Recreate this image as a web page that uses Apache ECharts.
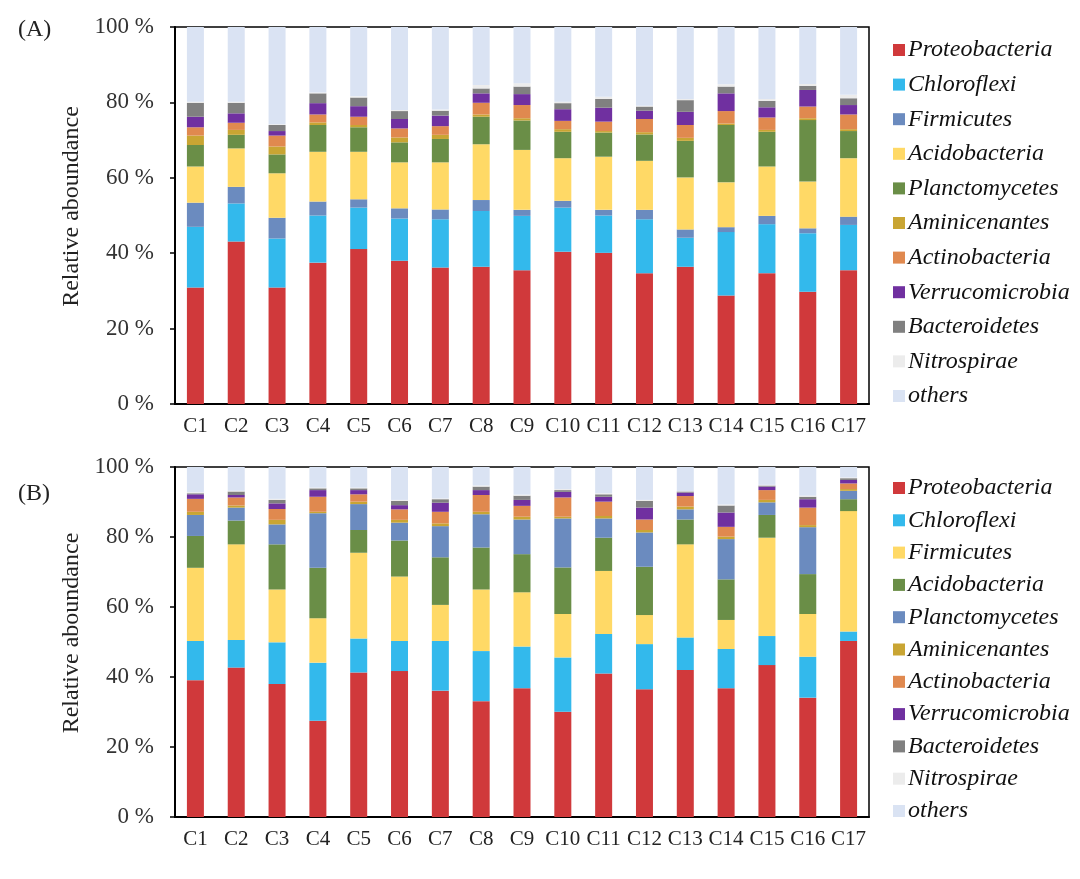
<!DOCTYPE html>
<html><head><meta charset="utf-8">
<script src="https://cdn.jsdelivr.net/npm/echarts@6/dist/echarts.min.js"></script>
<style>html,body{margin:0;padding:0;background:#fff}#c{width:1080px;height:879px}</style>
</head><body><div id="c"></div>
<script>
const categories = ['C1','C2','C3','C4','C5','C6','C7','C8','C9','C10','C11','C12','C13','C14','C15','C16','C17'];
const yTicks = [0, 20, 40, 60, 80, 100];
const phyla = ['Proteobacteria','Chloroflexi','Firmicutes','Acidobacteria','Planctomycetes','Aminicenantes','Actinobacteria','Verrucomicrobia','Bacteroidetes','Nitrospirae','others'];

// Panel A
const A_Proteobacteria = [30.9,43.1,30.9,37.5,41.1,38.0,36.2,36.4,35.5,40.4,40.1,34.7,36.4,28.8,34.7,29.8,35.5];
const A_Chloroflexi    = [16.1,10.1,13.0,12.5,11.0,11.2,12.8,14.8,14.4,11.7,9.9,14.3,7.7,16.8,13.0,15.5,12.0];
const A_Firmicutes     = [6.4,4.4,5.5,3.7,2.2,2.7,2.6,2.9,1.6,1.8,1.5,2.5,2.2,1.3,2.2,1.3,2.2];
const A_Acidobacteria  = [9.6,10.2,11.8,13.2,12.6,12.2,12.5,14.8,15.9,11.3,14.1,13.0,13.8,11.9,13.1,12.4,15.5];
const A_Planctomycetes = [5.7,3.6,5.0,7.1,6.5,5.3,6.2,7.3,7.8,7.0,6.4,7.0,9.7,15.2,9.2,16.3,7.2];
const A_Aminicenantes  = [2.5,1.3,2.1,0.7,0.6,1.3,1.1,0.6,0.6,0.7,0.4,0.6,0.8,0.4,0.5,0.5,0.5];
const A_Actinobacteria = [2.2,1.9,2.9,2.1,2.2,2.4,2.3,3.1,3.5,2.2,2.5,3.5,3.4,3.3,3.3,3.1,3.9];
const A_Verrucomicrobia= [2.8,2.5,1.2,3.0,2.8,2.5,2.8,2.5,2.9,3.1,3.7,2.2,3.5,4.7,2.7,4.4,2.5];
const A_Bacteroidetes  = [3.7,2.8,1.6,2.6,2.3,2.1,1.3,1.3,2.0,1.6,2.3,1.1,3.1,1.8,1.7,1.1,1.8];
const A_Nitrospirae    = [0.3,0.3,0.2,0.2,0.3,0.3,0.3,0.9,0.9,0.4,0.6,0.2,0.3,0.6,0.5,0.5,0.9];
const A_others         = [19.8,19.8,25.8,17.4,18.4,22.0,21.9,15.4,14.9,19.8,18.5,20.9,19.1,15.2,19.1,15.1,18.0];

// Panel B
const B_Proteobacteria = [39.1,42.7,38.0,27.5,41.3,41.7,36.1,33.1,36.8,30.1,41.0,36.5,42.0,36.8,43.4,34.1,50.3];
const B_Chloroflexi    = [11.2,7.9,11.9,16.6,9.7,8.6,14.2,14.3,11.9,15.5,11.3,12.9,9.3,11.2,8.3,11.7,2.7];
const B_Firmicutes     = [20.9,27.3,15.1,12.7,24.5,18.4,10.3,17.6,15.5,12.4,18.0,8.3,26.6,8.3,28.1,12.2,34.4];
const B_Acidobacteria  = [9.1,6.8,12.9,14.4,6.5,10.3,13.6,12.0,10.9,13.3,9.5,13.8,7.1,11.6,6.5,11.4,3.4];
const B_Planctomycetes = [6.0,3.7,5.7,15.6,7.4,5.1,8.9,9.5,9.9,14.0,5.5,9.8,2.9,11.5,3.6,13.4,2.4];
const B_Aminicenantes  = [0.9,0.6,1.3,0.4,0.7,0.8,0.8,0.7,0.8,0.5,0.7,0.7,0.8,0.7,0.7,0.6,0.5];
const B_Actinobacteria = [3.7,2.3,3.1,4.3,2.1,3.0,3.3,4.8,3.1,5.5,4.1,3.0,3.0,2.8,2.8,5.0,1.6];
const B_Verrucomicrobia= [1.3,0.7,1.6,1.9,1.2,1.2,2.6,1.4,1.7,1.6,1.4,3.4,1.0,4.1,1.0,2.4,1.0];
const B_Bacteroidetes  = [0.3,1.0,1.0,0.5,0.5,1.2,1.0,1.0,1.2,0.5,0.7,1.9,0.3,2.0,0.3,0.7,0.5];
const B_Nitrospirae    = [0.3,0.2,0.3,0.2,0.2,0.3,0.2,0.3,0.3,0.3,0.3,0.3,0.1,0.3,0.2,0.3,0.2];
const B_others         = [7.2,6.8,9.1,5.9,5.9,9.4,9.0,5.3,7.9,6.3,7.5,9.4,6.9,10.7,5.1,8.2,3.0];

const A_values = [A_Proteobacteria,A_Chloroflexi,A_Firmicutes,A_Acidobacteria,A_Planctomycetes,A_Aminicenantes,A_Actinobacteria,A_Verrucomicrobia,A_Bacteroidetes,A_Nitrospirae,A_others];
const B_values = [B_Proteobacteria,B_Chloroflexi,B_Firmicutes,B_Acidobacteria,B_Planctomycetes,B_Aminicenantes,B_Actinobacteria,B_Verrucomicrobia,B_Bacteroidetes,B_Nitrospirae,B_others];

const RED='#d0393b', SKY='#33b9ec', STEEL='#6b8bbf', YEL='#ffd966', GRN='#6a8e47', GOLD='#c9a533', ORG='#e0894f', PUR='#7030a0', GRY='#808080', NIT='#ececec', OTH='#dae3f3';
const A_colors = [RED,SKY,STEEL,YEL,GRN,GOLD,ORG,PUR,GRY,NIT,OTH];
const B_colors = [RED,SKY,YEL,GRN,STEEL,GOLD,ORG,PUR,GRY,NIT,OTH];

const SERIF = '"Liberation Serif","Times New Roman",serif';
const grids = [
  {left:175, top:27, width:694, height:377},
  {left:175, top:467, width:694, height:350}
];
function xAx(i){return {type:'category', gridIndex:i, data:categories,
  axisLine:{lineStyle:{color:'#000',width:2}},
  axisTick:{alignWithLabel:true,length:5,lineStyle:{color:'#000',width:1.5}},
  axisLabel:{color:'#222',fontFamily:SERIF,fontSize:21,margin:12,interval:0}};}
function yAx(i){return {type:'value', gridIndex:i, min:yTicks[0], max:yTicks[yTicks.length-1], interval:yTicks[1]-yTicks[0],
  name:'Relative aboundance', nameLocation:'middle', nameGap:81,
  nameTextStyle:{color:'#222',fontFamily:SERIF,fontSize:24,padding:[0,0,0,18]},
  axisLine:{show:true,lineStyle:{color:'#000',width:2}},
  axisTick:{show:true,length:5,lineStyle:{color:'#000',width:1.5}},
  splitLine:{show:false},
  axisLabel:{color:'#333',fontFamily:SERIF,fontSize:23,margin:21,formatter:'{value} %'}};}

const series = [];
phyla.forEach((p,k)=>{
  series.push({name:p,type:'bar',stack:'A',xAxisIndex:0,yAxisIndex:0,barWidth:17,data:A_values[k],itemStyle:{color:A_colors[k]}});
});
phyla.forEach((p,k)=>{
  series.push({name:p,type:'bar',stack:'B',xAxisIndex:1,yAxisIndex:1,barWidth:17,data:B_values[k],itemStyle:{color:B_colors[k]}});
});
function legend(top,gap,colors){return {orient:'vertical',left:888,top:top,itemGap:gap,itemWidth:12,itemHeight:12,icon:'rect',
  selectedMode:false,
  textStyle:{fontFamily:SERIF,fontStyle:'italic',fontSize:24,color:'#111',padding:[0,0,0,-2],lineHeight:22},
  data:phyla.map((p,k)=>({name:p,itemStyle:{color:colors[k]}}))};}

const chart = echarts.init(document.getElementById('c'),null,{renderer:'canvas'});
chart.setOption({
  animation:false,
  backgroundColor:'#fff',
  title:[
    {text:'(A)',left:13,top:13,textStyle:{fontFamily:SERIF,fontWeight:'normal',fontSize:24,color:'#222'}},
    {text:'(B)',left:13,top:477,textStyle:{fontFamily:SERIF,fontWeight:'normal',fontSize:24,color:'#222'}}
  ],
  grid:grids.map(g=>Object.assign({show:true,borderColor:'#000',borderWidth:1.5,backgroundColor:'transparent'},g)),
  legend:[legend(33,10.6,A_colors),legend(471,8.3,B_colors)],
  xAxis:[xAx(0),xAx(1)],
  yAxis:[yAx(0),yAx(1)],
  series:series
});
</script></body></html>
